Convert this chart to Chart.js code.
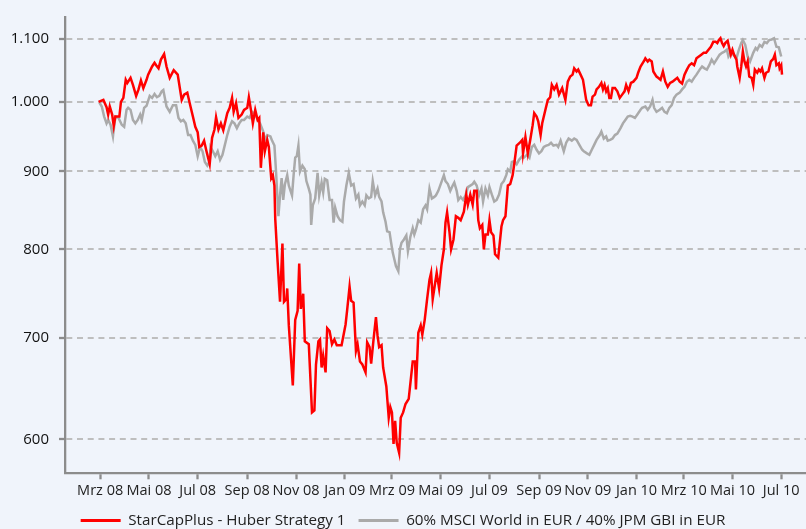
<!DOCTYPE html>
<html>
<head>
<meta charset="utf-8">
<script src="https://cdn.jsdelivr.net/npm/chart.js@4.4.0/dist/chart.umd.min.js"></script>
<style>
  html, body { margin: 0; padding: 0; background: #f0f4fb; }
  #wrap { width: 806px; height: 529px; position: relative; }
</style>
</head>
<body>
<div id="wrap"><canvas id="chart"></canvas></div>
<script>
// x values are days counted from 1 Jan 2008
const xTickDays = [60, 121, 182, 244, 305, 366, 425, 486, 547, 609, 670, 731, 790, 851, 912];
const xTickLabels = ['Mrz 08', 'Mai 08', 'Jul 08', 'Sep 08', 'Nov 08', 'Jan 09', 'Mrz 09', 'Mai 09',
  'Jul 09', 'Sep 09', 'Nov 09', 'Jan 10', 'Mrz 10', 'Mai 10', 'Jul 10'];
const yTickValues = [600, 700, 800, 900, 1000, 1100];
const yTickLabels = ['600', '700', '800', '900', '1.000', '1.100'];
const seriesNames = ['StarCapPlus - Huber Strategy 1', '60% MSCI World in EUR / 40% JPM GBI in EUR'];

const redDays = [
  58, 64, 68, 70, 72, 75, 77, 79, 84, 86,
  89, 92, 94, 98, 101, 105, 108, 111, 114, 118,
  120, 125, 128, 130, 133, 136, 140, 143, 147, 152,
  157, 162, 165, 169, 173, 176, 179, 182, 184, 187,
  190, 193, 197, 200, 203, 205, 208, 211, 214, 219,
  222, 225, 227, 230, 233, 237, 240, 244, 246, 249,
  251, 254, 257, 259, 261, 264, 266, 269, 271, 274,
  276, 278, 279, 282, 285, 288, 290, 293, 294, 296,
  301, 304, 307, 309, 311, 314, 316, 321, 325, 328,
  330, 333, 335, 337, 339, 342, 344, 347, 350, 353,
  356, 362, 367, 369, 372, 374, 377, 380, 382, 385,
  388, 392, 394, 397, 399, 402, 405, 407, 409, 412,
  414, 418, 421, 423, 425, 427, 429, 431, 434, 436,
  439, 442, 446, 449, 451, 454, 455, 458, 461, 463,
  466, 469, 472, 474, 476, 479, 481, 484, 487, 490,
  492, 494, 497, 499, 502, 505, 508, 511, 515, 518,
  520, 523, 526, 528, 531, 533, 535, 538, 540, 542,
  545, 547, 549, 552, 554, 558, 562, 564, 567, 570,
  573, 576, 578, 581, 585, 588, 589, 592, 595, 598,
  601, 603, 606, 608, 611, 613, 617, 620, 623, 625,
  628, 631, 634, 638, 642, 645, 648, 651, 653, 656,
  658, 661, 664, 668, 671, 674, 676, 679, 681, 684,
  687, 689, 691, 693, 695, 697, 699, 701, 704, 707,
  710, 713, 716, 718, 721, 724, 727, 731, 733, 736,
  740, 742, 745, 747, 750, 752, 756, 758, 761, 764,
  767, 770, 773, 776, 779, 782, 785, 788, 791, 794,
  797, 800, 803, 806, 809, 812, 815, 818, 821, 824,
  827, 830, 832, 834, 836, 838, 840, 842, 845, 847,
  849, 851, 853, 856, 857, 860, 862, 864, 866, 868,
  870, 872, 875, 877, 879, 882, 884, 886, 888, 891,
  893, 896, 899, 902, 904, 906, 909, 910, 912, 913
];
const redValues = [
  1000, 1003, 992, 981, 993, 981, 964, 978, 978, 1000,
  1006, 1034, 1029, 1037, 1026, 1009, 1019, 1033, 1021, 1034,
  1042, 1055, 1061, 1057, 1052, 1066, 1075, 1055, 1037, 1049,
  1042, 1003, 1011, 1014, 993, 978, 963, 955, 934, 936,
  943, 928, 910, 947, 959, 977, 959, 968, 958, 983,
  991, 1006, 985, 998, 976, 981, 988, 991, 1007, 985,
  968, 988, 973, 976, 905, 955, 928, 944, 934, 891,
  895, 881, 838, 785, 739, 807, 739, 742, 754, 713,
  651, 719, 729, 783, 731, 748, 696, 693, 625, 627,
  672, 696, 698, 669, 681, 664, 710, 707, 693, 698,
  692, 692, 714, 730, 756, 740, 738, 686, 693, 675,
  672, 664, 695, 690, 673, 698, 722, 702, 690, 692,
  669, 650, 620, 630, 625, 596, 617, 597, 588, 620,
  625, 633, 638, 660, 675, 675, 647, 705, 713, 703,
  719, 742, 764, 772, 742, 760, 772, 754, 781, 800,
  833, 846, 821, 800, 812, 841, 839, 836, 847, 869,
  856, 869, 856, 874, 874, 836, 826, 830, 800, 818,
  818, 836, 821, 817, 794, 790, 828, 836, 841, 881,
  883, 895, 910, 936, 940, 944, 925, 948, 925, 944,
  965, 983, 978, 971, 951, 968, 988, 1003, 1007, 1026,
  1019, 1026, 1011, 1021, 1003, 1031, 1039, 1042, 1052, 1047,
  1050, 1042, 1034, 1003, 995, 995, 1008, 1011, 1019, 1023,
  1029, 1019, 1026, 1016, 1021, 1006, 1006, 1021, 1021, 1016,
  1006, 1011, 1016, 1026, 1016, 1029, 1031, 1037, 1045, 1055,
  1063, 1068, 1063, 1066, 1063, 1047, 1039, 1037, 1034, 1047,
  1031, 1023, 1029, 1031, 1034, 1037, 1031, 1028, 1042, 1050,
  1057, 1060, 1057, 1068, 1071, 1074, 1077, 1077, 1082, 1087,
  1095, 1095, 1093, 1098, 1101, 1093, 1088, 1093, 1097, 1085,
  1074, 1082, 1074, 1066, 1055, 1037, 1055, 1079, 1063, 1055,
  1063, 1039, 1037, 1026, 1050, 1045, 1050, 1047, 1052, 1037,
  1045, 1047, 1063, 1067, 1074, 1057, 1060, 1052, 1057, 1042
];

const greyDays = [
  59, 62, 65, 68, 70, 73, 76, 79, 83, 87,
  90, 93, 95, 98, 101, 104, 107, 110, 112, 115,
  118, 122, 125, 128, 131, 134, 137, 139, 143, 147,
  151, 155, 158, 161, 164, 167, 170, 173, 176, 179,
  182, 185, 188, 191, 194, 197, 198, 201, 204, 207,
  210, 213, 216, 219, 222, 225, 228, 231, 234, 237,
  240, 244, 247, 250, 254, 257, 260, 264, 266, 269,
  273, 275, 278, 280, 283, 285, 287, 289, 291, 294,
  296, 300, 302, 304, 306, 308, 310, 313, 316, 318,
  321, 323, 324, 326, 329, 332, 334, 337, 339, 341,
  344, 347, 350, 352, 354, 357, 360, 363, 365, 368,
  371, 374, 377, 380, 383, 385, 388, 391, 393, 396,
  399, 401, 404, 407, 409, 412, 414, 417, 419, 422,
  424, 426, 428, 430, 433, 435, 437, 440, 443, 445,
  448, 451, 453, 455, 458, 461, 464, 467, 469, 472,
  475, 478, 480, 483, 486, 490, 492, 495, 498, 501,
  503, 506, 508, 511, 514, 517, 520, 523, 526, 528,
  531, 534, 537, 539, 542, 545, 547, 550, 553, 556,
  559, 562, 565, 568, 570, 573, 575, 578, 581, 584,
  588, 590, 594, 597, 600, 603, 606, 609, 612, 615,
  618, 621, 624, 627, 631, 633, 636, 640, 643, 646,
  650, 653, 656, 660, 663, 665, 669, 672, 675, 678,
  681, 685, 687, 690, 693, 695, 698, 701, 704, 707,
  711, 714, 717, 720, 723, 726, 729, 732, 736, 738,
  742, 745, 748, 751, 753, 756, 760, 763, 766, 769,
  772, 775, 778, 781, 785, 788, 791, 794, 797, 800,
  803, 806, 810, 813, 816, 819, 822, 825, 828, 832,
  835, 838, 841, 844, 846, 849, 852, 856, 859, 862,
  864, 867, 870, 873, 877, 880, 882, 885, 888, 891,
  894, 897, 900, 903, 906, 909, 912
];
const greyValues = [
  999, 993, 978, 968, 973, 966, 949, 978, 976, 966,
  963, 988, 991, 988, 973, 968, 973, 981, 973, 991,
  994, 1009, 1006, 1012, 1007, 1009, 1016, 1018, 993, 985,
  995, 995, 976, 971, 973, 968, 951, 951, 943, 937,
  921, 934, 928, 913, 908, 914, 934, 928, 921, 928,
  916, 923, 937, 951, 963, 971, 968, 961, 968, 973,
  973, 978, 976, 985, 981, 973, 968, 956, 944, 951,
  949, 943, 936, 900, 841, 868, 891, 862, 882, 895,
  881, 868, 895, 919, 921, 936, 900, 908, 903, 887,
  877, 869, 830, 855, 864, 898, 868, 885, 872, 890,
  888, 862, 862, 833, 852, 841, 836, 834, 860, 881,
  898, 881, 883, 864, 869, 855, 860, 855, 868, 864,
  866, 887, 868, 877, 866, 860, 846, 834, 822, 821,
  808, 796, 788, 780, 774, 800, 808, 812, 817, 798,
  815, 826, 818, 824, 836, 833, 850, 855, 850, 877,
  864, 866, 868, 874, 883, 895, 887, 883, 874, 881,
  885, 874, 862, 866, 862, 868, 879, 881, 883, 886,
  881, 868, 877, 860, 877, 868, 879, 869, 860, 862,
  869, 883, 887, 895, 903, 900, 913, 914, 910, 916,
  921, 919, 923, 919, 934, 937, 930, 925, 928, 934,
  936, 937, 940, 936, 937, 934, 943, 928, 940, 946,
  943, 946, 944, 936, 930, 928, 925, 923, 930, 937,
  944, 951, 956, 946, 949, 943, 944, 946, 951, 953,
  961, 968, 973, 978, 979, 978, 976, 981, 988, 991,
  993, 988, 993, 1003, 991, 985, 988, 991, 985, 983,
  991, 995, 1006, 1011, 1014, 1019, 1023, 1031, 1034, 1031,
  1037, 1042, 1050, 1055, 1052, 1050, 1057, 1066, 1060, 1068,
  1074, 1077, 1079, 1082, 1071, 1077, 1074, 1068, 1082, 1093,
  1098, 1090, 1071, 1063, 1077, 1085, 1082, 1090, 1087, 1095,
  1093, 1098, 1099, 1101, 1087, 1086, 1071
];

Chart.defaults.font.family = "'Open Sans', sans-serif";

const axisColor = '#8c8c8c';
const toPoints = (days, values) => days.map((d, i) => ({ x: d, y: values[i] }));

new Chart(document.getElementById('chart'), {
  type: 'line',
  data: {
    datasets: [
      {
        label: seriesNames[0],
        data: toPoints(redDays, redValues),
        borderColor: '#ff0000',
        backgroundColor: '#ff0000',
        borderWidth: 2.5,
        pointRadius: 0,
        tension: 0,
      },
      {
        label: seriesNames[1],
        data: toPoints(greyDays, greyValues),
        borderColor: '#aaaaaa',
        backgroundColor: '#aaaaaa',
        borderWidth: 2.5,
        pointRadius: 0,
        tension: 0,
      },
    ],
  },
  options: {
    responsive: true,
    maintainAspectRatio: false,
    animation: false,
    devicePixelRatio: 1,
    layout: { padding: { top: 17, right: 0, bottom: -9, left: 0 } },
    scales: {
      x: {
        type: 'linear',
        min: 16,
        max: 943,
        afterBuildTicks: (scale) => { scale.ticks = xTickDays.map((v) => ({ value: v })); },
        afterFit: (scale) => { scale.height = 26.5; },
        ticks: {
          autoSkip: false,
          maxRotation: 0,
          minRotation: 0,
          padding: 3,
          color: '#222',
          font: { size: 14.5 },
          callback: (v, i) => xTickLabels[i],
        },
        grid: { drawOnChartArea: false, drawTicks: true, tickLength: 6, tickColor: axisColor, tickWidth: 2.3 },
        border: { display: true, color: axisColor, width: 2.3 },
      },
      y: {
        type: 'logarithmic',
        min: 570,
        max: 1137,
        afterBuildTicks: (scale) => { scale.ticks = yTickValues.map((v) => ({ value: v })); },
        afterFit: (scale) => { scale.width = 65; scale.paddingTop = 0; scale.paddingBottom = 0; },
        ticks: {
          padding: 10,
          color: '#111',
          font: { size: 15 },
          callback: (v, i) => yTickLabels[i],
        },
        grid: { color: '#bebebe', lineWidth: 2, tickLength: 6, tickColor: axisColor, tickWidth: 2.3, tickBorderDash: [] },
        border: { display: true, color: axisColor, width: 2.3, dash: [6, 4.7] },
      },
    },
    plugins: {
      tooltip: { enabled: false },
      legend: {
        position: 'bottom',
        labels: {
          boxWidth: 40,
          boxHeight: 3,
          padding: 13,
          color: '#222',
          font: { size: 15.2 },
          generateLabels: (chart) => Chart.defaults.plugins.legend.labels.generateLabels(chart)
            .map((item) => ({ ...item, lineWidth: 0, fillStyle: item.strokeStyle })),
        },
      },
    },
  },
});
</script>
</body>
</html>
